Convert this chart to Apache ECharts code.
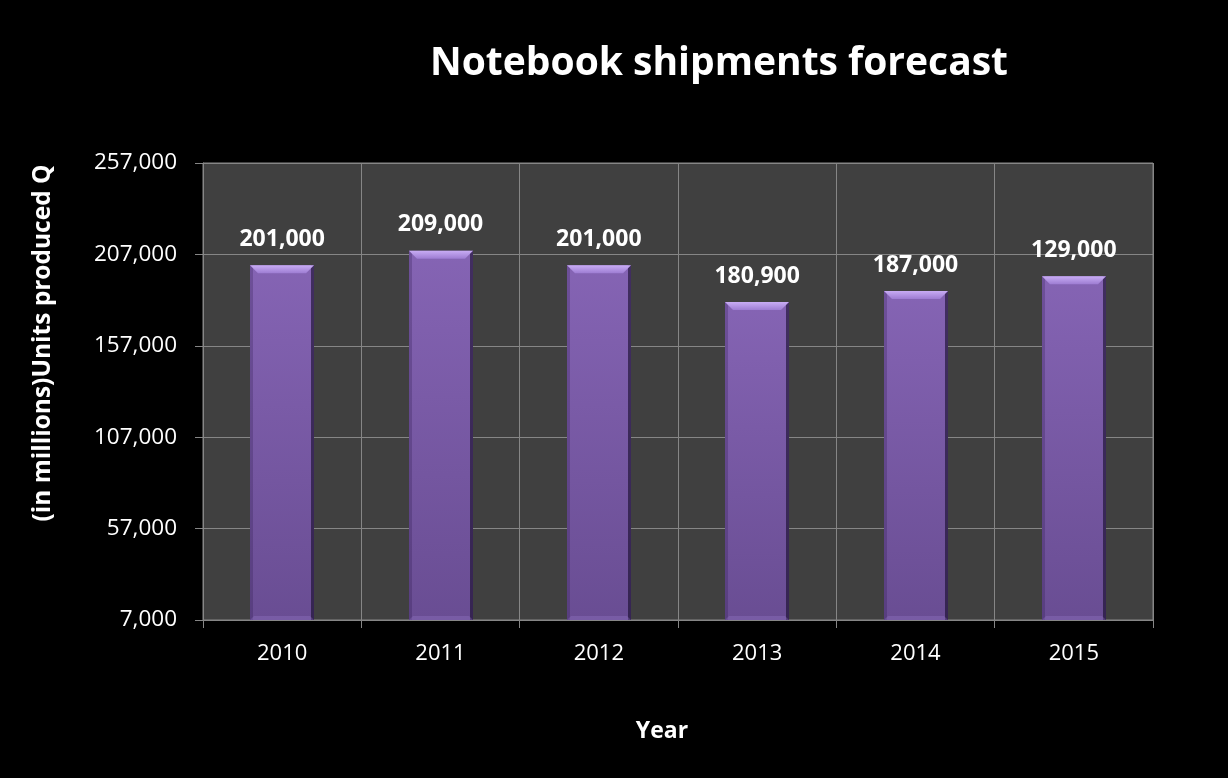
<!DOCTYPE html>
<html>
<head>
<meta charset="utf-8">
<script src="https://cdn.jsdelivr.net/npm/echarts@6/dist/echarts.min.js"></script>
<style>
html,body{margin:0;padding:0;background:#000;}
#c{width:1228px;height:778px;}
</style>
</head>
<body>
<div id="c"></div>
<script>
const years = ['2010', '2011', '2012', '2013', '2014', '2015'];
const units = [201000, 209000, 201000, 180900, 187000, 195000];
const valueLabels = ['201,000', '209,000', '201,000', '180,900', '187,000', '129,000'];
const yMin = 7000;
const yMax = 257000;
const yStep = 50000;

const FONT = 'Open Sans';
const chart = echarts.init(document.getElementById('c'), null, {renderer: 'canvas'});

function renderBar(params, api) {
  const idx = params.dataIndex;
  const top = api.coord([api.value(0), api.value(1)]);
  const base = api.coord([api.value(0), yMin]);
  const band = api.size([1, 0])[0];
  const w = Math.round(band * 0.405);
  const x = Math.round(top[0] - w / 2);
  const y = top[1];
  const h = base[1] - top[1];
  const bv = 8;
  const children = [
    {
      type: 'rect',
      shape: {x: x, y: y, width: w, height: h},
      style: {
        fill: new echarts.graphic.LinearGradient(0, 0, 0, 1, [
          {offset: 0, color: '#8564b4'},
          {offset: 1, color: '#694d93'}
        ])
      }
    },
    {
      type: 'rect',
      shape: {x: x, y: y, width: 3, height: h},
      style: {fill: 'rgba(40,20,70,0.25)'}
    },
    {
      type: 'rect',
      shape: {x: x + w - 3, y: y, width: 3, height: h},
      style: {fill: 'rgba(20,10,40,0.6)'}
    },
    {
      type: 'polygon',
      shape: {points: [[x, y], [x + w, y], [x + w - bv, y + bv], [x + bv, y + bv]]},
      style: {
        fill: new echarts.graphic.LinearGradient(0, 0, 0, 1, [
          {offset: 0, color: '#c8acf4'},
          {offset: 1, color: '#9d7cd2'}
        ])
      }
    },
    {
      type: 'polygon',
      shape: {points: [[x, base[1]], [x + w, base[1]], [x + w - 4, base[1] - 4], [x + 4, base[1] - 4]]},
      style: {fill: 'rgba(150,120,200,0.35)'}
    },
    {
      type: 'text',
      style: {
        x: top[0],
        y: y - 26,
        text: valueLabels[idx],
        fill: '#ffffff',
        font: 'bold 23px "' + FONT + '"',
        align: 'center',
        verticalAlign: 'middle'
      }
    }
  ];
  return {type: 'group', children: children};
}

const option = {
  backgroundColor: '#000000',
  animation: false,
  title: {
    text: 'Notebook shipments forecast',
    left: 714,
    top: 39,
    textAlign: 'center',
    textStyle: {color: '#ffffff', fontFamily: FONT, fontWeight: 'bold', fontSize: 39}
  },
  grid: {
    left: 203, right: 75, top: 163, bottom: 158,
    show: true, backgroundColor: '#404040', borderColor: '#868686', borderWidth: 1,
    containLabel: false
  },
  xAxis: {
    type: 'category',
    data: years,
    boundaryGap: true,
    axisLine: {show: true, lineStyle: {color: '#868686', width: 1}},
    axisTick: {show: true, length: 8, alignWithLabel: false, lineStyle: {color: '#868686'}},
    axisLabel: {color: '#ffffff', fontFamily: FONT, fontSize: 22, margin: 23},
    splitLine: {show: true, lineStyle: {color: '#868686', width: 1}}
  },
  yAxis: {
    type: 'value',
    min: yMin,
    max: yMax,
    interval: yStep,
    axisLine: {show: true, lineStyle: {color: '#868686', width: 1}},
    axisTick: {show: true, length: 8, lineStyle: {color: '#868686'}},
    axisLabel: {
      color: '#ffffff', fontFamily: FONT, fontSize: 22.5, margin: 26,
      formatter: v => v.toLocaleString('en-US')
    },
    splitLine: {show: true, lineStyle: {color: '#868686', width: 1}}
  },
  graphic: [
    {
      type: 'text',
      x: 43, y: 343,
      rotation: Math.PI / 2,
      style: {
        text: '(in millions)Units produced Q',
        fill: '#ffffff',
        font: 'bold 24.5px "' + FONT + '"',
        align: 'center',
        verticalAlign: 'middle'
      }
    },
    {
      type: 'text',
      x: 662, y: 731,
      style: {
        text: 'Year',
        fill: '#ffffff',
        font: 'bold 23px "' + FONT + '"',
        align: 'center',
        verticalAlign: 'middle'
      }
    }
  ],
  series: [{
    type: 'custom',
    renderItem: renderBar,
    encode: {x: 0, y: 1},
    data: years.map((y, i) => [i, units[i]]),
    z: 5
  }]
};
chart.setOption(option);
</script>
</body>
</html>
